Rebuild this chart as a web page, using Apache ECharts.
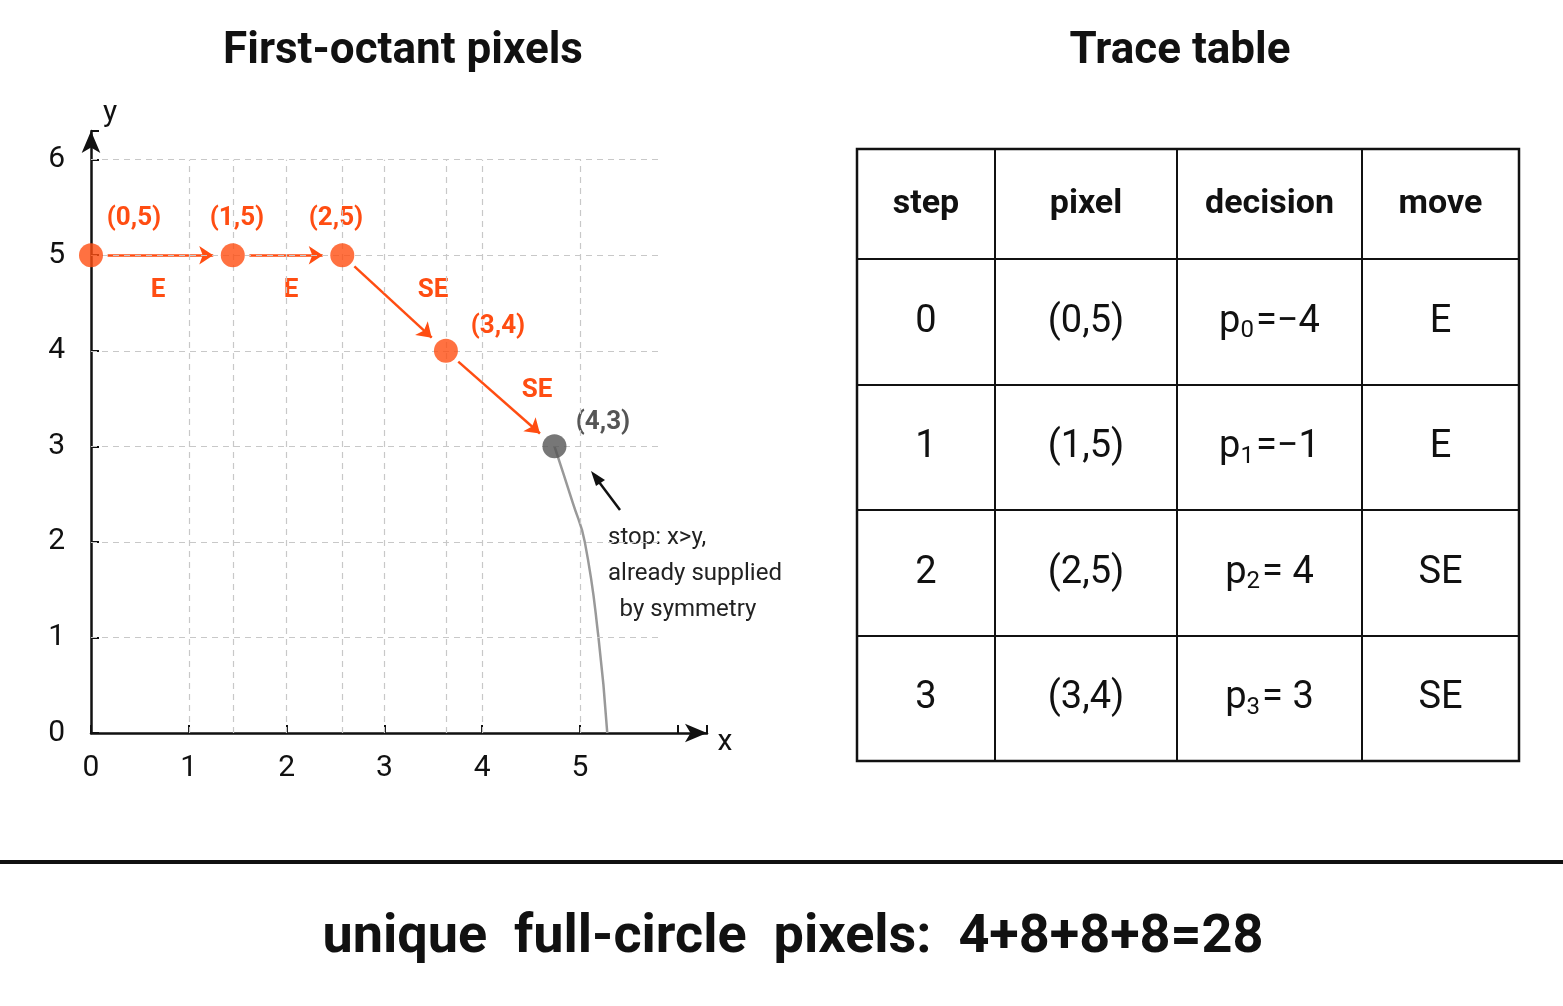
<!DOCTYPE html><html><head><meta charset="utf-8">
<script src="https://cdn.jsdelivr.net/npm/echarts@6/dist/echarts.min.js"></script>
<style>html,body{margin:0;padding:0;background:#fff}#c{width:1563px;height:1006px}</style></head>
<body><div id="c"></div><script>
const pixelLabels=['(0,5)','(1,5)','(2,5)','(3,4)','(4,3)'];
const dotX=[0,1.45,2.57,3.63,4.74];
const dotY=[5,5,5,4,3];
const moves=['E','E','SE','SE'];
const arcPts=[[4.74,3],[4.93,2.4],[5.05,2],[5.19,1],[5.28,0]];
const steps=['0','1','2','3'];
const decisions=[['0','=−4'],['1','=−1'],['2','= 4'],['3','= 3']];
const tableHeader=['step','pixel','decision','move'];
const xTicks=[0,1,2,3,4,5];
const yTicks=[0,1,2,3,4,5,6];

const OR='#FF4D12', FONT='Roboto, "Noto Sans", sans-serif';
const ch=echarts.init(document.getElementById('c'));
const dash={type:[6,5],color:'#c8c8c8',width:1.2};
const gridLines=[];
yTicks.slice(1).forEach(v=>gridLines.push([{coord:[0,v]},{coord:[5.82,v]}]));
xTicks.slice(1).concat(dotX.slice(1,4)).forEach(v=>gridLines.push([{coord:[v,0]},{coord:[v,6]}]));
const arrows=[];
for(let i=0;i<4;i++){
  const dx=dotX[i+1]-dotX[i], dy=dotY[i+1]-dotY[i];
  const s=0.17, e=0.2;
  const len=Math.hypot(dx,dy);
  arrows.push({coords:[[dotX[i]+dx*s/len,dotY[i]+dy*s/len],[dotX[i+1]-dx*e/len,dotY[i+1]-dy*e/len]]});
}
// table
const cols=[857,995,1177,1362,1519], rows=[149,259,385,510,636,761];
const g=[];
g.push({type:'rect',shape:{x:cols[0],y:rows[0],width:cols[4]-cols[0],height:rows[5]-rows[0]},style:{fill:'none',stroke:'#111',lineWidth:2.5}});
cols.slice(1,4).forEach(x=>g.push({type:'line',shape:{x1:x,y1:rows[0],x2:x,y2:rows[5]},style:{stroke:'#111',lineWidth:2}}));
rows.slice(1,5).forEach(y=>g.push({type:'line',shape:{x1:cols[0],y1:y,x2:cols[4],y2:y},style:{stroke:'#111',lineWidth:2}}));
const cx=i=>(cols[i]+cols[i+1])/2, cy=j=>(rows[j]+rows[j+1])/2;
tableHeader.forEach((t,i)=>g.push({type:'text',x:cx(i),y:cy(0),style:{text:t,font:'bold 34px '+FONT,fill:'#111',align:'center',verticalAlign:'middle'}}));
for(let j=0;j<4;j++){
  const big='38px '+FONT;
  g.push({type:'text',x:cx(0),y:cy(j+1),style:{text:steps[j],font:big,fill:'#111',align:'center',verticalAlign:'middle'}});
  g.push({type:'text',x:cx(1),y:cy(j+1),style:{text:pixelLabels[j],font:big,fill:'#111',align:'center',verticalAlign:'middle'}});
  g.push({type:'text',x:cx(2),y:cy(j+1),style:{text:'{a|p}{s|'+decisions[j][0]+'}{a|'+decisions[j][1]+'}',align:'center',verticalAlign:'middle',
    rich:{a:{font:big,fill:'#111',fontSize:38,fontFamily:FONT},s:{fontSize:24,fontFamily:FONT,fill:'#111',padding:[18,2,0,0]}}}});
  g.push({type:'text',x:cx(3),y:cy(j+1),style:{text:moves[j],font:big,fill:'#111',align:'center',verticalAlign:'middle'}});
}
// titles & footer
g.push({type:'text',x:403,y:52,style:{text:'First-octant pixels',font:'bold 44px '+FONT,fill:'#111',align:'center',verticalAlign:'middle'}});
g.push({type:'text',x:1180,y:52,style:{text:'Trace table',font:'bold 44px '+FONT,fill:'#111',align:'center',verticalAlign:'middle'}});
g.push({type:'line',shape:{x1:0,y1:862,x2:1563,y2:862},style:{stroke:'#111',lineWidth:4}});
g.push({type:'text',x:793,y:938,style:{text:'unique  full-circle  pixels:  4+8+8+8=28',font:'bold 54px '+FONT,fill:'#111',align:'center',verticalAlign:'middle'}});
g.push({type:'text',x:110,y:113,style:{text:'y',font:'30px '+FONT,fill:'#111',align:'center',verticalAlign:'middle'}});
g.push({type:'text',x:725,y:742,style:{text:'x',font:'30px '+FONT,fill:'#111',align:'center',verticalAlign:'middle'}});
// annotations
const lab=(t,x,y,c)=>g.push({type:'text',x,y,style:{text:t,font:'bold 26px '+FONT,fill:c,align:'center',verticalAlign:'middle'}});
lab('(0,5)',134,218,OR);lab('(1,5)',237,218,OR);lab('(2,5)',336,218,OR);lab('(3,4)',498,326,OR);lab('(4,3)',603,422,'#555');
lab('E',158,290,OR);lab('E',291,290,OR);lab('SE',433,290,OR);lab('SE',537,390,OR);
g.push({type:'line',shape:{x1:620,y1:510,x2:596,y2:478},style:{stroke:'#111',lineWidth:2.5}});
g.push({type:'polygon',shape:{points:[[591,471],[605,480],[596,486]]},style:{fill:'#111'}});
const nt=(t,x,y,a)=>g.push({type:'text',x,y,style:{text:t,font:'24px '+FONT,fill:'#222',align:a,verticalAlign:'middle'}});
nt('stop: x>y,',608,538,'left');nt('already supplied',608,574,'left');nt('by symmetry',688,610,'center');

ch.setOption({
  animation:false,
  grid:{left:91,top:131,width:616,height:602},
  xAxis:{type:'value',min:0,max:6.3,interval:1,
    axisLine:{lineStyle:{color:'#111',width:2.5},symbol:['none','arrow'],symbolSize:[14,22]},
    axisTick:{show:true,length:-8,lineStyle:{color:'#111',width:2}},
    splitLine:{show:false},
    axisLabel:{fontSize:30,color:'#111',margin:20,fontFamily:FONT,formatter:v=>xTicks.includes(v)?String(v):''}},
  yAxis:{type:'value',min:0,max:6.3,interval:1,
    axisLine:{show:true,lineStyle:{color:'#111',width:2.5},symbol:['none','arrow'],symbolSize:[14,22]},
    axisTick:{show:true,length:-8,lineStyle:{color:'#111',width:2}},
    splitLine:{show:false},
    axisLabel:{fontSize:30,color:'#111',margin:26,fontFamily:FONT,formatter:v=>yTicks.includes(v)?String(v):''}},
  series:[
    {type:'line',data:[],markLine:{silent:true,symbol:'none',label:{show:false},lineStyle:dash,data:gridLines}},
    {type:'line',data:arcPts,smooth:true,symbol:'none',lineStyle:{color:'#999',width:2.5}},
    {type:'lines',coordinateSystem:'cartesian2d',data:arrows,symbol:['none','arrow'],symbolSize:14,lineStyle:{color:OR,width:2.5,opacity:1}},
    {type:'scatter',symbolSize:24,z:5,data:dotX.map((x,i)=>({value:[x,dotY[i]],itemStyle:{color:i===4?'#555':OR}}))}
  ],
  graphic:g
});
</script></body></html>
